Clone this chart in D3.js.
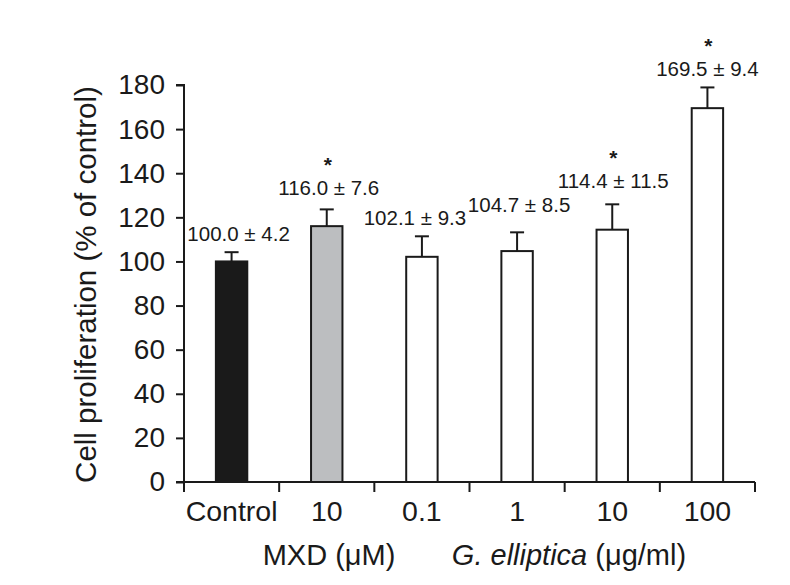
<!DOCTYPE html>
<html>
<head>
<meta charset="utf-8">
<script src="https://cdn.jsdelivr.net/npm/d3@7"></script>
<style>
  html, body { margin: 0; padding: 0; background: #fff; }
  svg { display: block; font-family: "Liberation Sans", Arial, Helvetica, sans-serif; }
</style>
</head>
<body>
<div id="chart"></div>
<script>
// ---- data ----
const categories = ["Control", "10", "0.1", "1", "10", "100"];
const means = [100.0, 116.0, 102.1, 104.7, 114.4, 169.5];
const sds = [4.2, 7.6, 9.3, 8.5, 11.5, 9.4];
const significant = [false, true, false, false, true, true];
const barColors = ["#1a1a1a", "#bcbec0", "#ffffff", "#ffffff", "#ffffff", "#ffffff"];
const yTicks = [0, 20, 40, 60, 80, 100, 120, 140, 160, 180];
const yTitle = "Cell proliferation (% of control)";

// ---- layout ----
const W = 790, H = 585;
const mLeft = 184, mRight = 755, mTop = 85, mBottom = 482;
const labelLift = [11, 14, 11, 20, 16, 11];   // gap between error cap and value label
const labelShift = [7, 2, -7, 2, 1, 0];        // horizontal nudge of value labels

const svg = d3.select("#chart").append("svg").attr("width", W).attr("height", H);

const x = d3.scaleBand().domain(categories.map((d, i) => i)).range([mLeft, mRight]).padding(0);
const y = d3.scaleLinear().domain([0, 180]).range([mBottom, mTop]);
const barW = x.bandwidth() * 0.33;

// bars
const g = svg.append("g");
g.selectAll("rect.bar").data(means).join("rect")
  .attr("class", "bar")
  .attr("x", (d, i) => x(i) + x.bandwidth() / 2 - barW / 2)
  .attr("y", d => y(d))
  .attr("width", barW)
  .attr("height", d => y(0) - y(d))
  .attr("fill", (d, i) => barColors[i])
  .attr("stroke", "#1a1a1a")
  .attr("stroke-width", 2);

// error bars (upper only)
const capW = 14;
means.forEach((m, i) => {
  const cx = x(i) + x.bandwidth() / 2;
  g.append("line").attr("x1", cx).attr("x2", cx).attr("y1", y(m)).attr("y2", y(m + sds[i]))
    .attr("stroke", "#1a1a1a").attr("stroke-width", 2);
  g.append("line").attr("x1", cx - capW / 2).attr("x2", cx + capW / 2)
    .attr("y1", y(m + sds[i])).attr("y2", y(m + sds[i]))
    .attr("stroke", "#1a1a1a").attr("stroke-width", 2);
  const ly = y(m + sds[i]) - labelLift[i];
  const lx = cx + labelShift[i];
  g.append("text").attr("x", lx).attr("y", ly).attr("text-anchor", "middle")
    .attr("font-size", 20.5).attr("fill", "#1a1a1a")
    .text(m.toFixed(1) + " \u00B1 " + sds[i].toFixed(1));
  if (significant[i]) {
    g.append("text").attr("x", cx + 1).attr("y", ly - 23.5).attr("text-anchor", "middle")
      .attr("font-size", 21).attr("font-weight", "bold").attr("fill", "#1a1a1a").text("*");
  }
});

// y axis
const yAxis = d3.axisLeft(y).tickValues(yTicks).tickSize(8).tickPadding(11);
const ya = svg.append("g").attr("transform", `translate(${mLeft},0)`).call(yAxis);
ya.select(".domain").attr("d", `M-8,${mTop}H0V${mBottom + 10}`).attr("stroke", "#1a1a1a").attr("stroke-width", 2);
ya.selectAll(".tick line").attr("stroke", "#1a1a1a").attr("stroke-width", 2);
ya.selectAll(".tick text").attr("font-size", 28).attr("fill", "#1a1a1a")
  .attr("font-family", "Liberation Sans, Arial, sans-serif");

// x axis: line + boundary ticks
const xa = svg.append("g");
xa.append("line").attr("x1", mLeft - 8).attr("x2", mRight).attr("y1", mBottom).attr("y2", mBottom)
  .attr("stroke", "#1a1a1a").attr("stroke-width", 2);
const bounds = categories.map((d, i) => x(i) + x.bandwidth());
xa.selectAll("line.bt").data(bounds).join("line").attr("class", "bt")
  .attr("x1", d => d).attr("x2", d => d).attr("y1", mBottom).attr("y2", mBottom + 10)
  .attr("stroke", "#1a1a1a").attr("stroke-width", 2);
xa.selectAll("text.xl").data(categories).join("text").attr("class", "xl")
  .attr("x", (d, i) => x(i) + x.bandwidth() / 2).attr("y", 521)
  .attr("text-anchor", "middle").attr("font-size", 28.5).attr("fill", "#1a1a1a").text(d => d);

// group titles
svg.append("text").attr("x", 329).attr("y", 565).attr("text-anchor", "middle")
  .attr("font-size", 29).attr("fill", "#1a1a1a").text("MXD (\u03BCM)");
const gt = svg.append("text").attr("x", 569).attr("y", 565).attr("text-anchor", "middle")
  .attr("font-size", 29).attr("fill", "#1a1a1a");
gt.append("tspan").attr("font-style", "italic").text("G. elliptica");
gt.append("tspan").text(" (\u03BCg/ml)");

// y title
svg.append("text").attr("transform", `translate(96,${(mTop + mBottom) / 2 + 1}) rotate(-90)`)
  .attr("text-anchor", "middle").attr("font-size", 29.5).attr("fill", "#1a1a1a").text(yTitle);
</script>
</body>
</html>
